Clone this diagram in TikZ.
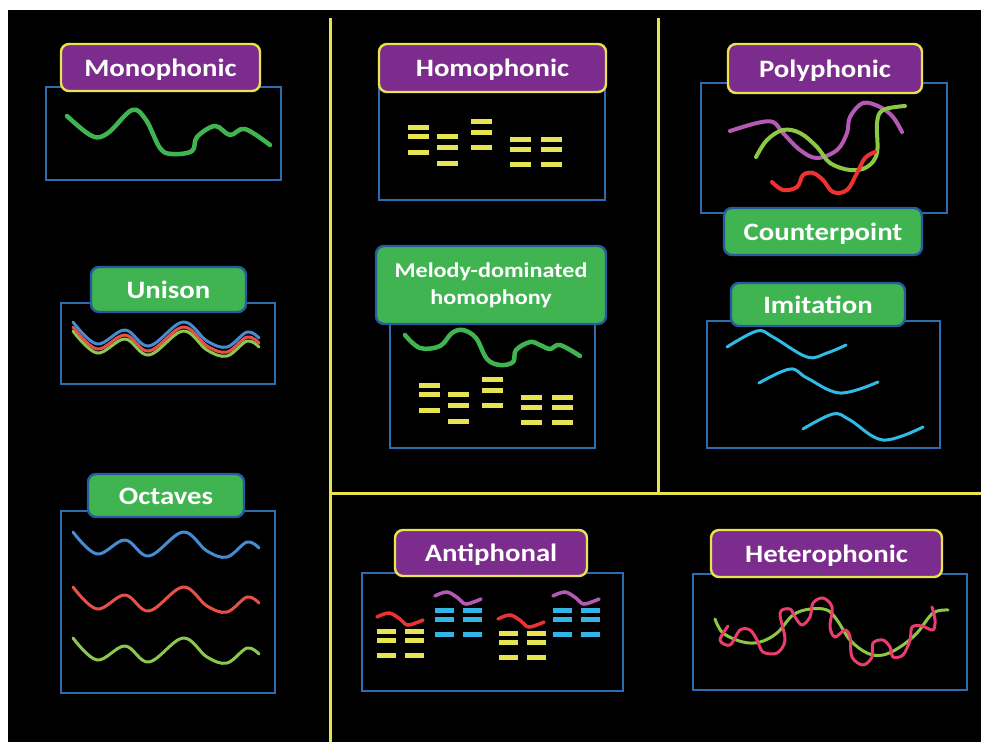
\documentclass[tikz,border=0pt]{standalone}
\usepackage{fontspec}
\newfontfamily\labelfont[FakeStretch=1.15]{Carlito}

\definecolor{labpurple}{RGB}{124,44,140}
\definecolor{labyellow}{RGB}{232,228,80}
\definecolor{boxblue}{RGB}{46,108,176}
\definecolor{labgreen}{RGB}{64,180,80}
\definecolor{labedge}{RGB}{40,90,160}
\definecolor{melgreen}{RGB}{64,180,80}
\definecolor{baryellow}{RGB}{230,228,80}
\definecolor{cyanbar}{RGB}{50,180,230}
\definecolor{wblue}{RGB}{70,140,210}
\definecolor{wred}{RGB}{230,80,70}
\definecolor{wlime}{RGB}{140,200,80}
\definecolor{wcyan}{RGB}{50,185,230}
\definecolor{wpurple}{RGB}{180,90,180}
\definecolor{wpink}{RGB}{235,60,110}
\definecolor{pred}{RGB}{238,50,50}
\definecolor{pgreen}{RGB}{140,200,70}

\begin{document}
\begin{tikzpicture}[x=1pt,y=-1pt,
  titlebase/.style={rounded corners=8pt, line width=2.4pt, text=white,
    inner sep=0pt, font=\labelfont\bfseries\fontsize{25}{28}\selectfont},
  onelinetext/.style={text height=20pt, text depth=3pt},
  purplelabel/.style={titlebase, onelinetext, draw=labyellow, fill=labpurple},
  greenlabel/.style={titlebase, onelinetext, draw=labedge, fill=labgreen},
  framebox/.style={draw=boxblue, line width=2pt},
  divider/.style={draw=labyellow, line width=3pt},
  melody/.style={draw=melgreen, line width=4.5pt, line cap=round, line join=round},
  thinwave/.style={line width=3pt, line cap=round, line join=round},
  voicewave/.pic={\draw[pic actions] plot[smooth, tension=0.6] coordinates
    {(0,0) (24,22) (52,8) (76,24) (110,0) (134,19) (154,25) (174,10) (186,16)};},
  squiggle/.pic={\draw[pic actions, line width=3.5pt, line cap=round]
    plot[smooth, tension=0.6] coordinates {(0,-14) (12,-18) (23,-12) (31,-6) (46,-11)};},
  chordbars/.pic={
    \foreach \x/\y in {0/0,0/9,0/25, 29/9,29/20,29/36, 63/-6,63/5,63/20,
                       102/12,102/22,102/37, 133/12,133/22,133/37}
      \fill[baryellow] (\x,\y-2.5) rectangle ++(21,5);},
  pairbars/.pic={
    \foreach \x/\y in {0/0,0/9,0/24, 28/0,28/9,28/24}
      \fill[pic actions] (\x,\y-2.5) rectangle ++(19,5);}
]
% page and backdrop
\fill[white] (0,0) rectangle (981,742);
\fill[black] (8,10) rectangle (981,742);
\useasboundingbox (0,0) rectangle (981,742);

% panel dividers
\draw[divider] (330,18) -- (330,742);
\draw[divider] (658,18) -- (658,493);
\draw[divider] (330,493) -- (981,493);

% ---------- Monophonic ----------
\draw[framebox] (46,87) rectangle (281,180);
\draw[melody] plot[smooth, tension=0.6] coordinates {(67,116) (92,136) (108,133) (132,110) (146,120)
  (160,148) (172,154) (192,151) (197,137) (215,126) (230,135) (245,129) (270,145)};
\node[purplelabel, minimum width=199pt, minimum height=47pt] (mono) at (160.5,67.5) {Monophonic};

% ---------- Unison ----------
\draw[framebox] (61,303) rectangle (275,384);
\pic[thinwave, draw=wlime] at (73,331) {voicewave};
\pic[thinwave, draw=wred] at (73,327) {voicewave};
\pic[thinwave, draw=wblue] at (73,322) {voicewave};
\node[greenlabel, minimum width=155pt, minimum height=45pt] (unison) at (168.5,289.5) {Unison};

% ---------- Octaves ----------
\draw[framebox] (61,511) rectangle (275,693);
\pic[thinwave, draw=wblue] at (73,532) {voicewave};
\pic[thinwave, draw=wred] at (73,587) {voicewave};
\pic[thinwave, draw=wlime] at (73,638) {voicewave};
\node[greenlabel, minimum width=156pt, minimum height=43pt] (octaves) at (166,495.5) {Octaves};

% ---------- Homophonic ----------
\draw[framebox] (379,88) rectangle (605,200);
\pic at (408,127) {chordbars};
\node[purplelabel, minimum width=227pt, minimum height=48pt] (homo) at (492.5,68) {Homophonic};

% ---------- Melody-dominated homophony ----------
\draw[framebox] (390,320) rectangle (595,448);
\draw[melody] plot[smooth, tension=0.6] coordinates {(405,335) (420,348) (440,346) (452,333) (463,330)
  (476,338) (487,359) (500,365) (513,362) (516,350) (530,342) (540,345) (550,349) (560,345) (580,356)};
\pic at (419,385) {chordbars};
\node[titlebase, draw=labedge, fill=labgreen, minimum width=230pt, minimum height=78pt, align=center,
  font=\labelfont\bfseries\fontsize{21}{27}\selectfont] (melhomo) at (491,285) {Melody-dominated\\homophony};

% ---------- Polyphonic ----------
\draw[framebox] (701,83) rectangle (947,213);
\draw[thinwave, line width=4pt, draw=wpurple] plot[smooth, tension=0.6] coordinates {(730,131) (757,123)
  (773,122) (783,133) (800,150) (817,158) (837,150) (847,133) (850,117) (863,103) (880,107) (893,117) (902,132)};
\draw[thinwave, line width=4pt, draw=pgreen] plot[smooth, tension=0.6] coordinates {(756,157) (767,140)
  (783,130) (800,133) (817,147) (830,163) (850,170) (867,167) (877,153) (877,123) (883,110) (905,106)};
\draw[thinwave, line width=4pt, draw=pred] plot[smooth, tension=0.6] coordinates {(772,182) (783,190)
  (797,187) (803,175) (813,173) (823,180) (833,192) (847,190) (857,173) (865,158) (875,152)};
\node[purplelabel, minimum width=194pt, minimum height=49pt] (poly) at (825,68.5) {Polyphonic};
\node[greenlabel, minimum width=198pt, minimum height=47pt] (counter) at (823,231.5) {Counterpoint};

% ---------- Imitation ----------
\draw[framebox] (707,321) rectangle (940,448);
\draw[thinwave, draw=wcyan] plot[smooth, tension=0.6] coordinates {(727,347) (757,331) (773,337) (807,357) (827,353) (846,345)};
\draw[thinwave, draw=wcyan] plot[smooth, tension=0.6] coordinates {(759,383) (790,369) (807,378) (840,393) (878,382)};
\draw[thinwave, draw=wcyan] plot[smooth, tension=0.6] coordinates {(803,429) (833,414) (850,420) (883,440) (923,427)};
\node[greenlabel, minimum width=174pt, minimum height=43pt] (imitation) at (818,304.5) {Imitation};

% ---------- Antiphonal ----------
\draw[framebox] (362,573) rectangle (623,691);
\pic[fill=baryellow] at (377,631) {pairbars};
\pic[draw=pred] at (377,631) {squiggle};
\pic[fill=cyanbar] at (435,610) {pairbars};
\pic[draw=wpurple] at (435,610) {squiggle};
\pic[fill=baryellow] at (499,633) {pairbars};
\pic[draw=pred] at (498,633) {squiggle};
\pic[fill=cyanbar] at (553,610) {pairbars};
\pic[draw=wpurple] at (553,610) {squiggle};
\node[purplelabel, minimum width=192pt, minimum height=46pt] (anti) at (491,553) {Antiphonal};

% ---------- Heterophonic ----------
\draw[framebox] (693,574) rectangle (967,690);
\draw[thinwave, draw=pgreen] plot[smooth, tension=0.6] coordinates {(715,619) (723,633) (743,642) (760,642)
  (777,633) (793,615) (810,609) (827,610) (837,620) (850,640) (867,653) (883,655) (900,647) (917,633) (933,613) (948,610)};
\draw[thinwave, draw=wpink] plot[smooth, tension=0.55] coordinates {(728,626) (720,640) (730,645) (740,630)
  (750,630) (757,640) (763,652) (777,653) (785,640) (780,613) (790,609) (795,617) (802,625) (810,617)
  (813,603) (823,598) (832,607) (830,627) (835,637) (845,630) (850,637) (852,657) (863,665) (872,657)
  (873,643) (883,640) (890,647) (893,657) (903,655) (910,640) (912,627) (922,626) (933,630) (935,620) (932,607)};
\node[purplelabel, minimum width=231pt, minimum height=47pt] (hetero) at (826.5,553.5) {Heterophonic};
\end{tikzpicture}
\end{document}
